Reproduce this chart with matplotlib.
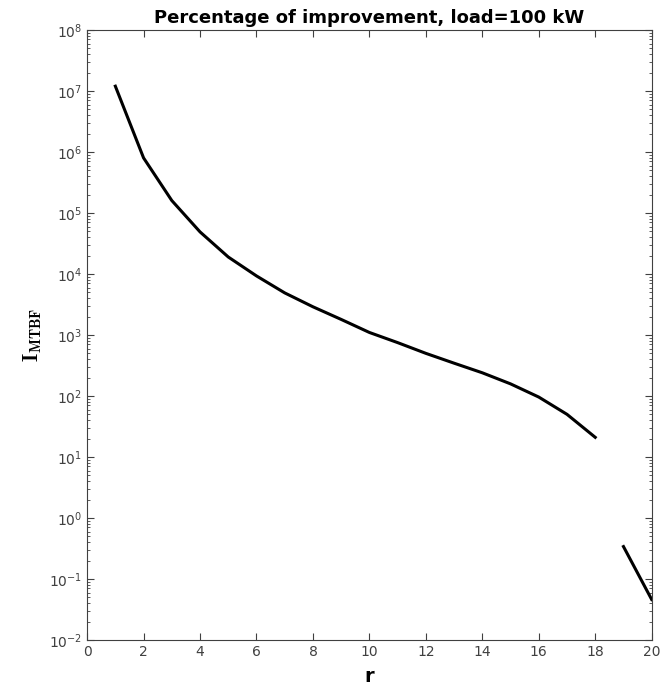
import numpy as np
import matplotlib.pyplot as plt
from matplotlib.ticker import LogLocator, NullFormatter

# r values and improvement in MTBF
r = [1, 2, 3, 4, 5, 6, 7, 8, 9, 10, 11, 12, 13, 14, 15, 16, 17, 18, 19, 20]
i_mtbf = [1.2e7, 8e5, 1.6e5, 4.9e4, 1.9e4, 9.3e3, 4.9e3, 2.9e3, 1.8e3, 1.1e3,
          750, 500, 345, 240, 158, 96, 50, 21, 0.34, 0.046]
# the curve breaks between r=18 and r=19
break_after = 18

plt.rcParams['mathtext.fontset'] = 'cm'

fig = plt.figure(figsize=(6.65, 6.9), dpi=100)
ax = fig.add_axes([0.131, 0.0725, 0.849, 0.884])

ax.plot(r[:break_after], i_mtbf[:break_after], color="black", lw=2.2)
ax.plot(r[break_after:], i_mtbf[break_after:], color="black", lw=2.2)

ax.set_yscale("log")
ax.set_xlim(0, 20)
ax.set_ylim(1e-2, 1e8)
ax.set_xticks(range(0, 21, 2))
ax.yaxis.set_major_locator(LogLocator(base=10, numticks=20))
ax.yaxis.set_minor_locator(LogLocator(base=10, subs=np.arange(2, 10), numticks=20))
ax.yaxis.set_minor_formatter(NullFormatter())

ax.tick_params(which="both", direction="in", top=True, right=True,
               labelsize=10, labelcolor="#404040", color="#404040")
ax.tick_params(which="major", length=5)
ax.tick_params(which="minor", length=2.5)
for s in ax.spines.values():
    s.set_color("#404040")
    s.set_linewidth(0.8)

ax.set_title("Percentage of improvement, load=100 kW", fontsize=13,
             fontweight="bold", pad=5)
ax.set_xlabel("r", fontsize=14, fontweight="bold", labelpad=6)
ax.set_ylabel(r"$\mathbf{I}_{\mathbf{MTBF}}$", fontsize=15, labelpad=4)

fig.savefig("out.png", dpi=100)
